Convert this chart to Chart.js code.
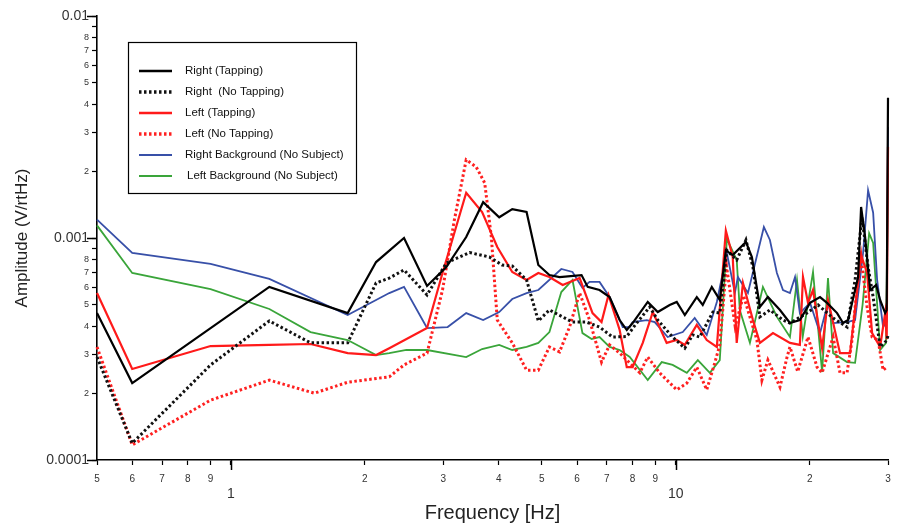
<!DOCTYPE html>
<html>
<head>
<meta charset="utf-8">
<script src="https://cdn.jsdelivr.net/npm/chart.js@4.4.1/dist/chart.umd.min.js"></script>
<style>html,body{margin:0;padding:0;background:#fff}</style>
</head>
<body>
<canvas id="chart" width="901" height="526"></canvas>
<script>
// [frequency Hz, amplitude V/rtHz]
const rightTapping = [[0.5,0.000459],[0.6,0.000222],[1.22,0.000602],[1.83,0.000459],[2.12,0.000779],[2.45,0.001],[2.76,0.000608],[3.05,0.00074],[3.38,0.00101],[3.69,0.00145],[4.01,0.00124],[4.29,0.00135],[4.62,0.00131],[4.91,0.000756],[5.2,0.000681],[5.48,0.000667],[6.14,0.000681],[6.34,0.000602],[6.74,0.000583],[7.1,0.000542],[7.48,0.000427],[7.76,0.000385],[8.0,0.000414],[8.65,0.000515],[9.11,0.000464],[9.69,0.000499],[10.05,0.000515],[10.48,0.00045],[11.15,0.000542],[11.5,0.000499],[12.05,0.000602],[12.56,0.000526],[12.96,0.00088],[13.43,0.000838],[14.38,0.00096],[14.83,0.000821],[15.46,0.000489],[16.11,0.000542],[17.15,0.000474],[18.06,0.000414],[19.01,0.000427],[20.04,0.00051],[21.1,0.000542],[21.88,0.00051],[23.05,0.000459],[23.77,0.000414],[24.4,0.000427],[25.7,0.000667],[26.1,0.00138],[26.65,0.00101],[27.35,0.000583],[28.22,0.000614],[28.8,0.000526],[29.56,0.000459],[29.8,0.000474],[30,0.00428]];
const rightNoTapping = [[0.5,0.000291],[0.6,0.000119],[0.9,0.000268],[1.22,0.000423],[1.51,0.000337],[1.83,0.000337],[2.12,0.000627],[2.27,0.00066],[2.45,0.000718],[2.76,0.000554],[3.05,0.000772],[3.44,0.00086],[3.81,0.000821],[4.07,0.000756],[4.29,0.000748],[4.62,0.000647],[4.91,0.000423],[5.2,0.000474],[5.57,0.000441],[5.86,0.000418],[6.3,0.000418],[6.74,0.000397],[7.21,0.000358],[7.76,0.00036],[8.17,0.000414],[8.74,0.000489],[9.11,0.000427],[9.84,0.000358],[10.48,0.000319],[10.92,0.000366],[11.32,0.000358],[12.12,0.000464],[12.56,0.000459],[13.03,0.00088],[13.71,0.000796],[14.38,0.00098],[14.91,0.00074],[15.46,0.000441],[16.28,0.000474],[17.42,0.000427],[18.06,0.000414],[19.72,0.000459],[20.89,0.000499],[22.58,0.000436],[24.27,0.000397],[25.3,0.000647],[26.23,0.00124],[27.06,0.00074],[27.78,0.000542],[28.8,0.000323],[29.86,0.000347],[30,0.000366]];
const leftTapping = [[0.5,0.000565],[0.6,0.000257],[0.9,0.000326],[1.22,0.00033],[1.51,0.000333],[1.83,0.000303],[2.12,0.000297],[2.27,0.000319],[2.76,0.000393],[2.99,0.000696],[3.38,0.0016],[3.67,0.00131],[3.97,0.000911],[4.29,0.000703],[4.62,0.000647],[4.91,0.000696],[5.2,0.000667],[5.57,0.000614],[6.08,0.00066],[6.5,0.000459],[6.81,0.000418],[7.06,0.000554],[7.48,0.000385],[7.76,0.000262],[8.0,0.000262],[8.43,0.000337],[8.88,0.000464],[9.54,0.000337],[10.05,0.000347],[10.48,0.00033],[11.15,0.000406],[11.74,0.000347],[12.37,0.000323],[12.96,0.00108],[13.43,0.000821],[13.71,0.000337],[14.16,0.000627],[14.91,0.000427],[15.46,0.000337],[16.54,0.000373],[18.06,0.000337],[19.01,0.00033],[19.32,0.000667],[19.83,0.00051],[20.35,0.000583],[21.33,0.000319],[21.99,0.000526],[23.4,0.000303],[24.65,0.000303],[26.1,0.000838],[26.92,0.000696],[27.63,0.000373],[28.8,0.000323],[29.56,0.000459],[29.8,0.00035],[30,0.00257]];
const leftNoTapping = [[0.5,0.000323],[0.6,0.000117],[0.9,0.000186],[1.22,0.000229],[1.54,0.0002],[1.83,0.000224],[2.27,0.000237],[2.45,0.000268],[2.76,0.000303],[2.99,0.000583],[3.18,0.00121],[3.38,0.00225],[3.56,0.00209],[3.72,0.00177],[3.85,0.00101],[3.97,0.000427],[4.29,0.000337],[4.62,0.000254],[4.91,0.000254],[5.2,0.000323],[5.48,0.000307],[5.77,0.000397],[6.08,0.000565],[6.4,0.000427],[6.81,0.000276],[7.1,0.00033],[7.48,0.000303],[8.3,0.000247],[8.65,0.000291],[9.2,0.000247],[10.05,0.000207],[10.59,0.000222],[11.15,0.000262],[11.74,0.000207],[12.24,0.000274],[12.56,0.00033],[13.0,0.00075],[13.6,0.0004],[14.2,0.00055],[15.22,0.000347],[15.62,0.000229],[16.11,0.000282],[17.15,0.000213],[17.79,0.000291],[18.06,0.000323],[18.8,0.00025],[19.83,0.000358],[20.78,0.000262],[21.33,0.000247],[22.58,0.000358],[23.4,0.000247],[24.27,0.000247],[24.9,0.000347],[25.57,0.000602],[26.1,0.000821],[26.92,0.000489],[27.63,0.000358],[28.5,0.000347],[29.25,0.000254],[29.86,0.000262]];
const rightBackground = [[0.5,0.00121],[0.6,0.000856],[0.9,0.000764],[1.22,0.000654],[1.83,0.00045],[2.27,0.000565],[2.45,0.000602],[2.76,0.000393],[3.07,0.000397],[3.38,0.000459],[3.69,0.000427],[4.01,0.000464],[4.29,0.000531],[4.62,0.000565],[4.91,0.000583],[5.53,0.000725],[5.86,0.000703],[6.17,0.000596],[6.4,0.000634],[6.74,0.000634],[7.1,0.000542],[7.6,0.000397],[7.88,0.000397],[8.0,0.000418],[8.61,0.000427],[8.97,0.000418],[9.59,0.000358],[10.37,0.000377],[11.03,0.000436],[11.74,0.000366],[12.37,0.000515],[13.03,0.000856],[13.58,0.000565],[13.79,0.000667],[14.53,0.000565],[15.78,0.00112],[16.28,0.00098],[16.88,0.000696],[17.42,0.000583],[18.06,0.000565],[18.54,0.000667],[19.01,0.000459],[20.04,0.00051],[21.1,0.000373],[21.99,0.00051],[22.58,0.000414],[24.27,0.000418],[25.3,0.000427],[26.37,0.000856],[27.06,0.00164],[27.78,0.0013],[28.36,0.000647],[29.25,0.000397],[29.8,0.00042],[30,0.00316]];
const leftBackground = [[0.5,0.00114],[0.6,0.000696],[0.9,0.000589],[1.22,0.000479],[1.51,0.000377],[1.83,0.000347],[2.12,0.000297],[2.27,0.000303],[2.48,0.000313],[2.76,0.000313],[3.38,0.000291],[3.67,0.000316],[4.01,0.00033],[4.29,0.000313],[4.62,0.000323],[4.91,0.000337],[5.2,0.000377],[5.53,0.000571],[5.86,0.000647],[6.17,0.000373],[6.47,0.000351],[6.74,0.000358],[7.1,0.000323],[7.48,0.000313],[7.88,0.000291],[8.65,0.000229],[9.3,0.000276],[9.84,0.000268],[10.59,0.000247],[11.21,0.000282],[11.93,0.000247],[12.56,0.000282],[13.03,0.00099],[13.71,0.000796],[13.93,0.000474],[14.68,0.000337],[15.7,0.000602],[16.88,0.000441],[18.06,0.000358],[18.73,0.000647],[19.3,0.00036],[20.35,0.000703],[21.33,0.000249],[21.99,0.00066],[22.58,0.000303],[24.27,0.000276],[25.3,0.000274],[26.3,0.0005],[27.21,0.00105],[27.78,0.00095],[28.8,0.000313],[29.7,0.000337],[30,0.00196]];

const seriesLabels = ['Right (Tapping)', 'Right  (No Tapping)', 'Left (Tapping)', 'Left (No Tapping)', 'Right Background (No Subject)', 'Left Background (No Subject)'];

const xTickValues = [0.5,0.6,0.7,0.8,0.9,1,2,3,4,5,6,7,8,9,10,20,30];
const xTickLabels = ['5','6','7','8','9','1','2','3','4','5','6','7','8','9','10','2','3'];
const yTickValues = [0.0001,0.0002,0.0003,0.0004,0.0005,0.0006,0.0007,0.0008,0.0009,0.001,0.002,0.003,0.004,0.005,0.006,0.007,0.008,0.009,0.01];
const yTickLabels = ['0.0001','2','3','4','5','6','7','8','','0.001','2','3','4','5','6','7','8','','0.01'];

const FONT = '"Liberation Sans", Arial, sans-serif';
const isDecade = v => Math.abs(Math.log10(v) - Math.round(Math.log10(v))) < 1e-6;
const pts = arr => arr.map(p => ({ x: p[0], y: p[1] }));

const styles = [
  { color: '#000000', dash: [], width: 2.2 },
  { color: '#111111', dash: [2.5, 2.5], width: 3 },
  { color: '#ff1a1a', dash: [], width: 2.2 },
  { color: '#ff2020', dash: [2.5, 2.5], width: 3 },
  { color: '#3850a8', dash: [], width: 1.8 },
  { color: '#3aa53a', dash: [], width: 1.8 },
];
const series = [rightTapping, rightNoTapping, leftTapping, leftNoTapping, rightBackground, leftBackground];

const datasets = series.map((s, i) => ({
  label: seriesLabels[i], data: pts(s),
  borderColor: styles[i].color, borderWidth: styles[i].width, borderDash: styles[i].dash,
  pointRadius: 0, tension: 0, fill: false, clip: 6,
}));

// legend box drawn inside the plot, top left
const legendBox = {
  id: 'legendBox',
  afterDraw(chart) {
    const ctx = chart.ctx;
    ctx.save();
    ctx.fillStyle = '#fff';
    ctx.fillRect(128, 42, 228, 151);
    ctx.strokeStyle = '#000'; ctx.lineWidth = 1.2;
    ctx.strokeRect(128.5, 42.5, 228, 151);
    ctx.font = '11.5px ' + FONT;
    ctx.textBaseline = 'middle';
    chart.data.datasets.forEach((ds, i) => {
      const y = 71 + i * 21;
      ctx.beginPath();
      ctx.setLineDash(ds.borderDash);
      ctx.strokeStyle = ds.borderColor;
      ctx.lineWidth = ds.borderWidth + 0.4;
      ctx.moveTo(139, y); ctx.lineTo(172, y);
      ctx.stroke();
      ctx.setLineDash([]);
      ctx.fillStyle = '#111';
      ctx.fillText(ds.label, i === 5 ? 187 : 185, y);
    });
    ctx.restore();
  }
};

// longer tick marks for the decades
const majorTicks = {
  id: 'majorTicks',
  afterDraw(chart) {
    const { ctx, scales: { x, y } } = chart;
    ctx.save();
    ctx.strokeStyle = '#000'; ctx.lineWidth = 1.5;
    xTickValues.filter(isDecade).forEach(v => {
      const px = Math.round(x.getPixelForValue(v)) + 0.5;
      ctx.beginPath(); ctx.moveTo(px, y.bottom); ctx.lineTo(px, y.bottom + 10); ctx.stroke();
    });
    yTickValues.filter(isDecade).forEach(v => {
      const py = Math.round(y.getPixelForValue(v)) + 0.5;
      ctx.beginPath(); ctx.moveTo(x.left, py); ctx.lineTo(x.left - 10, py); ctx.stroke();
    });
    ctx.restore();
  }
};

new Chart(document.getElementById('chart'), {
  type: 'line',
  data: { datasets },
  plugins: [legendBox, majorTicks],
  options: {
    responsive: false,
    animation: false,
    layout: { padding: { top: 16, right: 13, left: 0, bottom: 0 } },
    plugins: { legend: { display: false }, tooltip: { enabled: false } },
    scales: {
      x: {
        type: 'logarithmic', min: 0.5, max: 30,
        afterBuildTicks: s => { s.ticks = xTickValues.map(v => ({ value: v })); },
        afterFit: s => { s.height = 66; },
        border: { color: '#000', width: 1.6 },
        grid: { drawOnChartArea: false, tickLength: 5, tickColor: '#000', tickWidth: 1.2 },
        ticks: {
          autoSkip: false, maxRotation: 0, padding: 8, color: '#333',
          font: ctx => (ctx.tick && isDecade(ctx.tick.value))
            ? { family: FONT, size: 14, lineHeight: 1.0 }
            : { family: FONT, size: 10 },
          callback: (v, i) => isDecade(xTickValues[i]) ? ['', xTickLabels[i]] : xTickLabels[i],
        },
        title: { display: true, text: 'Frequency [Hz]', color: '#222', font: { family: FONT, size: 20 }, padding: { top: 0, bottom: 1 } },
      },
      y: {
        type: 'logarithmic', min: 0.0001, max: 0.01,
        afterBuildTicks: s => { s.ticks = yTickValues.map(v => ({ value: v })); },
        afterFit: s => { s.width = 97; },
        border: { color: '#000', width: 1.6 },
        grid: { drawOnChartArea: false, tickLength: 5, tickColor: '#000', tickWidth: 1.2 },
        ticks: {
          autoSkip: false, padding: 3, color: '#333',
          font: ctx => ({ family: FONT, size: ctx.tick && isDecade(ctx.tick.value) ? 14 : 9 }),
          callback: (v, i) => yTickLabels[i],
        },
        title: { display: true, text: 'Amplitude (V/rtHz)', color: '#222', font: { family: FONT, size: 17 }, padding: { top: 12, bottom: 0 } },
      },
    },
  },
});
</script>
</body>
</html>
